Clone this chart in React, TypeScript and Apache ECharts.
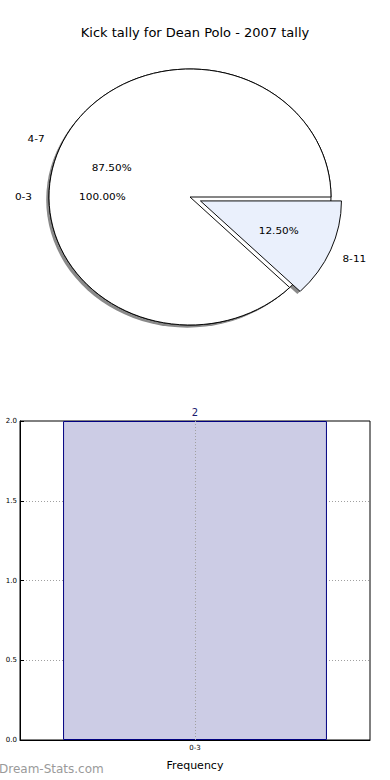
import React, { useEffect, useRef } from "react";
import * as echarts from "echarts";

const titleText = "Kick tally for Dean Polo - 2007 tally";
// pie: matplotlib-style overlapping wedges, percentages as shown
const pieFullName = "0-3";
const pieFullPct = 100.0;
const pieNames = ["4-7", "8-11"];
const piePcts = [87.5, 12.5];
const pieColors = ["#ffffff", "#eaf0fc"];
const explodedIndex = 1;

const barCategories = ["0-3"];
const barValues = [2];
const watermark = "Dream-Stats.com";

const FONT = "DejaVu Sans";
const CX = 190;
const CY = 197;
const R = 141;
const SCALE_Y = 128 / 141;
const EXPLODE = 11.3;

export default function App() {
  const bottomRef = useRef<HTMLDivElement>(null);
  const pieRef = useRef<HTMLDivElement>(null);

  useEffect(() => {
    document.body.style.margin = "0";
    const bottom = echarts.init(bottomRef.current!, undefined, { renderer: "svg" });
    const pie = echarts.init(pieRef.current!, undefined, { renderer: "svg" });

    bottom.setOption({
      animation: false,
      backgroundColor: "#ffffff",
      textStyle: { fontFamily: FONT },
      title: {
        text: titleText,
        left: "center",
        top: 21,
        textStyle: { fontFamily: FONT, fontSize: 13, fontWeight: "normal", color: "#000" },
      },
      graphic: [
        {
          type: "text",
          left: -1,
          top: 763,
          style: { text: watermark, fontFamily: FONT, fontSize: 12, fill: "#9a9a9a" },
        },
      ],
      grid: {
        left: 20,
        right: 20,
        top: 421,
        bottom: 40,
        show: true,
        borderColor: "#000",
        borderWidth: 1,
        backgroundColor: "transparent",
      },
      xAxis: {
        type: "category",
        data: barCategories,
        name: "Frequency",
        nameLocation: "middle",
        nameGap: 20,
        nameTextStyle: { fontFamily: FONT, fontSize: 11, color: "#000" },
        axisLine: { show: true, lineStyle: { color: "#000", width: 1 } },
        axisTick: { show: false },
        axisLabel: { fontFamily: FONT, fontSize: 7, color: "#000", margin: 4 },
        splitLine: { show: false },
      },
      yAxis: {
        type: "value",
        min: 0,
        max: 2,
        interval: 0.5,
        axisLine: { show: true, lineStyle: { color: "#000", width: 1 } },
        axisTick: { show: true, inside: true, length: 4, lineStyle: { color: "#000" } },
        axisLabel: {
          fontFamily: FONT,
          fontSize: 7,
          color: "#000",
          margin: 3,
          formatter: (v: number) => v.toFixed(1),
        },
        splitLine: {
          show: true,
          showMinLine: false,
          showMaxLine: false,
          lineStyle: { type: [1, 2], color: "#a0a0a0", width: 1 },
        },
      },
      series: [
        {
          type: "bar",
          data: barValues,
          barWidth: "75.4%",
          itemStyle: { color: "#cccce5", borderColor: "#000080", borderWidth: 1 },
          label: {
            show: true,
            position: "top",
            distance: 4,
            fontFamily: FONT,
            fontSize: 10,
            color: "#1a1a6e",
          },
          markLine: {
            silent: true,
            symbol: "none",
            label: { show: false },
            lineStyle: { type: [1, 2], color: "#a0a0a0", width: 1 },
            data: [{ xAxis: barCategories[0] }],
          },
        },
      ],
    });

    const base = {
      type: "pie",
      center: [CX, CY],
      startAngle: 0,
      clockwise: false,
      avoidLabelOverlap: false,
      selectedMode: "single",
      selectedOffset: EXPLODE,
      labelLine: { show: false },
      emphasis: { disabled: true },
      silent: true,
    };
    const labelStyle = { fontFamily: FONT, fontSize: 10.5, color: "#000" };
    const pctFmt = (p: number) => p.toFixed(2) + "%";
    const noLabel = { show: false };
    const transparent = { color: "rgba(0,0,0,0)", borderWidth: 0 };

    pie.setOption({
      animation: false,
      series: [
        // shadows
        {
          ...base,
          center: [CX - 2.8, CY + 2.9],
          radius: [0, R],
          label: noLabel,
          itemStyle: { color: "#8a8a8a", borderWidth: 0 },
          data: [{ name: pieFullName, value: pieFullPct }],
        },
        {
          ...base,
          center: [CX - 2.8, CY + 2.9],
          radius: [0, R],
          label: noLabel,
          data: pieNames.map((n, i) => ({
            name: n,
            value: piePcts[i],
            selected: i === explodedIndex,
            itemStyle: i === explodedIndex ? { color: "#8a8a8a", borderWidth: 0 } : transparent,
          })),
        },
        // full wedge
        {
          ...base,
          radius: [0, R],
          label: noLabel,
          itemStyle: { color: "#ffffff", borderColor: "#000", borderWidth: 1 },
          data: [{ name: pieFullName, value: pieFullPct }],
        },
        // other wedges
        {
          ...base,
          radius: [0, R],
          label: noLabel,
          data: pieNames.map((n, i) => ({
            name: n,
            value: piePcts[i],
            selected: i === explodedIndex,
            itemStyle: { color: pieColors[i], borderColor: "#000", borderWidth: 1 },
          })),
        },
        // percentage labels (at 0.6 R)
        {
          ...base,
          radius: [0, R * 1.2],
          itemStyle: transparent,
          label: { show: true, position: "inside", ...labelStyle, formatter: () => pctFmt(pieFullPct) },
          data: [{ name: pieFullName, value: pieFullPct }],
        },
        {
          ...base,
          radius: [0, R * 1.16],
          itemStyle: transparent,
          label: {
            show: true,
            position: "inside",
            ...labelStyle,
            formatter: (p: any) => pctFmt(piePcts[p.dataIndex]),
          },
          data: pieNames.map((n, i) => ({ name: n, value: piePcts[i], selected: i === explodedIndex })),
        },
        // name labels (~1.16 R)
        {
          ...base,
          radius: [0, R * 2.32],
          itemStyle: transparent,
          label: { show: true, position: "inside", ...labelStyle, formatter: "{b}" },
          data: [{ name: pieFullName, value: pieFullPct }],
        },
        {
          ...base,
          radius: [0, R * 2.32],
          itemStyle: transparent,
          label: { show: true, position: "inside", ...labelStyle, formatter: "{b}" },
          data: pieNames.map((n, i) => ({ name: n, value: piePcts[i], selected: i === explodedIndex })),
        },
      ],
    });

    return () => {
      bottom.dispose();
      pie.dispose();
    };
  }, []);

  return (
    <div style={{ position: "relative", width: 390, height: 780 }}>
      <div ref={bottomRef} style={{ position: "absolute", left: 0, top: 0, width: 390, height: 780 }} />
      <div
        ref={pieRef}
        style={{
          position: "absolute",
          left: 0,
          top: 0,
          width: 390,
          height: 394,
          transform: `scaleY(${SCALE_Y})`,
          transformOrigin: `${CX}px ${CY}px`,
        }}
      />
    </div>
  );
}
